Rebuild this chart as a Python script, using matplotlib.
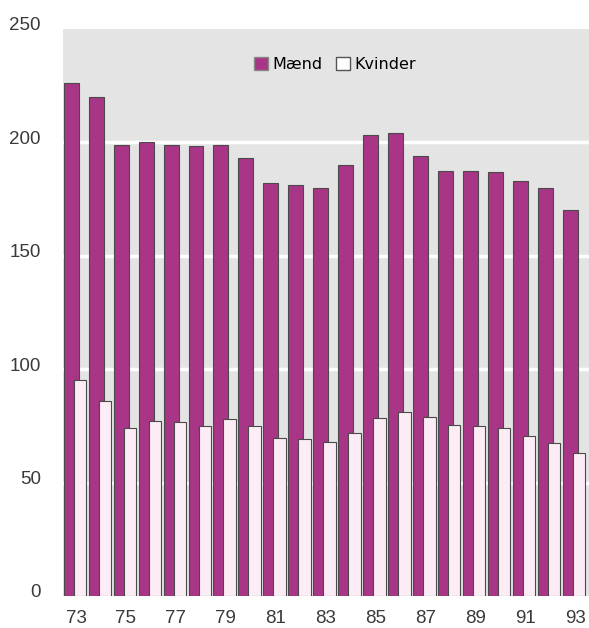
import numpy as np
import matplotlib.pyplot as plt
import matplotlib.transforms as mtransforms
from matplotlib.patches import Patch

years = list(range(73, 94))
maend = [226, 220, 199, 200, 199, 198.5, 199, 193, 182, 181, 180,
         190, 203, 204, 194, 187.5, 187.5, 187, 183, 180, 170]
kvinder = [95, 86, 74, 77, 76.5, 75, 78, 75, 69.5, 69, 68,
           72, 78.5, 81, 79, 75.5, 75, 74, 70.5, 67.5, 63]
tick_years = list(range(73, 94, 2))

purple = '#a83585'
pink = '#fcecf6'
edge = '#4a4a4a'

fig = plt.figure(figsize=(5.89, 6.28), dpi=100)
ax = fig.add_axes([0.107, 0.051, 0.893, 0.903])
ax.set_facecolor('#e4e4e4')

x = np.array(years, dtype=float)
ax.bar(x - 0.19, maend, width=0.6, color=purple, edgecolor=edge, linewidth=0.8, zorder=2)
ax.bar(x + 0.16, kvinder, width=0.5, color=pink, edgecolor=edge, linewidth=0.8, zorder=3)

ax.set_xlim(72.48, 93.56)
ax.set_ylim(0, 250)
ax.set_yticks([0, 50, 100, 150, 200, 250])
ax.set_xticks(tick_years)
ax.set_xticklabels([str(y) for y in tick_years])
for yv in [50, 100, 150, 200]:
    ax.axhline(yv, color='white', linewidth=2.5, zorder=1)

for s in ax.spines.values():
    s.set_visible(False)
ax.tick_params(length=0, labelsize=13.5, colors='#3a3a3a')
ax.tick_params(axis='y', pad=16)
ax.tick_params(axis='x', pad=10)
for lab in ax.get_xticklabels() + ax.get_yticklabels():
    lab.set_family('Liberation Sans')
# y labels sit a little above their gridlines
off = mtransforms.ScaledTranslation(0, 5/100, fig.dpi_scale_trans)
for lab in ax.get_yticklabels():
    lab.set_transform(lab.get_transform() + off)

handles = [Patch(facecolor=purple, edgecolor='#888888', label='Mænd'),
           Patch(facecolor='white', edgecolor='#555555', label='Kvinder')]
ax.legend(handles=handles, loc='center', bbox_to_anchor=(0.517, 0.937), ncol=2,
          frameon=False, handlelength=0.9, handleheight=0.9, handletextpad=0.3,
          columnspacing=0.8,
          prop={'family': 'Liberation Sans Narrow', 'size': 11.5})

plt.savefig('out.png', dpi=100)
plt.close()
